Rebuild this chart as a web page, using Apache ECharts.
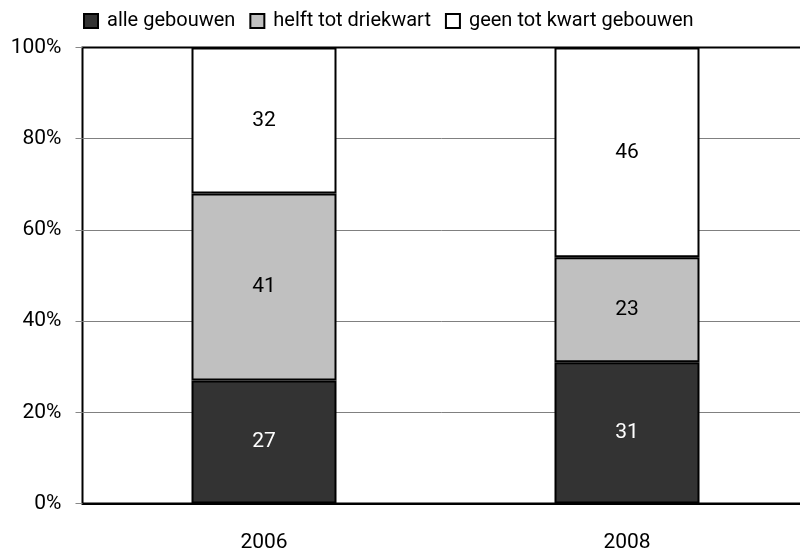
<!DOCTYPE html>
<html><head><meta charset="utf-8">
<script src="https://cdn.jsdelivr.net/npm/echarts@6/dist/echarts.min.js"></script>
<style>html,body{margin:0;padding:0;background:#fff}#c{width:800px;height:553px}</style>
</head><body><div id="c"></div>
<script>
var categories = ['2006', '2008'];
var alleGebouwen = [27, 31];
var helftTotDriekwart = [41, 23];
var geenTotKwart = [32, 46];
var yTicks = ['0%', '20%', '40%', '60%', '80%', '100%'];
var seriesNames = ['alle gebouwen', 'helft tot driekwart', 'geen tot kwart gebouwen'];

var FONT = "Roboto, 'Liberation Sans', sans-serif";
var colors = ['#333333', '#c0c0c0', '#ffffff'];
var labelColors = ['#ffffff', '#000000', '#000000'];
var dataSets = [alleGebouwen, helftTotDriekwart, geenTotKwart];

var chart = echarts.init(document.getElementById('c'), null, {renderer: 'canvas'});
chart.setOption({
  animation: false,
  textStyle: {fontFamily: FONT},
  legend: {
    top: 11, left: 83, padding: 0,
    itemWidth: 14, itemHeight: 14, itemGap: 14,
    icon: 'rect',
    textStyle: {fontFamily: FONT, fontSize: 20, lineHeight: 20, color: '#000', padding: [0, 0, 0, 4]},
    data: seriesNames.map(function (n, i) {
      return {name: n, itemStyle: {color: colors[i], borderColor: '#000', borderWidth: 2}};
    })
  },
  grid: {left: 82.5, top: 47.5, width: 726, height: 456, outerBoundsMode: 'none', containLabel: false,
    show: true, borderColor: '#000', borderWidth: 2, backgroundColor: '#fff'},
  xAxis: {
    type: 'category', data: categories,
    axisLine: {lineStyle: {color: '#000', width: 2}},
    axisTick: {show: false},
    axisLabel: {fontFamily: FONT, fontSize: 21, color: '#000', margin: 29}
  },
  yAxis: {
    type: 'value', min: 0, max: 100, interval: 20,
    axisLine: {show: false},
    axisTick: {show: true, length: 7, lineStyle: {color: '#888'}},
    splitLine: {lineStyle: {color: ['#808080', '#808080', '#808080', '#808080', '#808080', '#000000'], width: 1}},
    axisLabel: {fontFamily: FONT, fontSize: 21, color: '#000', margin: 21,
      formatter: function (v) { return yTicks[Math.round(v / 20)]; }}
  },
  series: dataSets.map(function (d, i) {
    return {
      name: seriesNames[i], type: 'bar', stack: 'a', data: d,
      barWidth: 145,
      itemStyle: {color: colors[i], borderColor: '#000', borderWidth: 2},
      label: {show: true, position: 'inside', color: labelColors[i], fontFamily: FONT, fontSize: 21}
    };
  })
});
</script></body></html>
